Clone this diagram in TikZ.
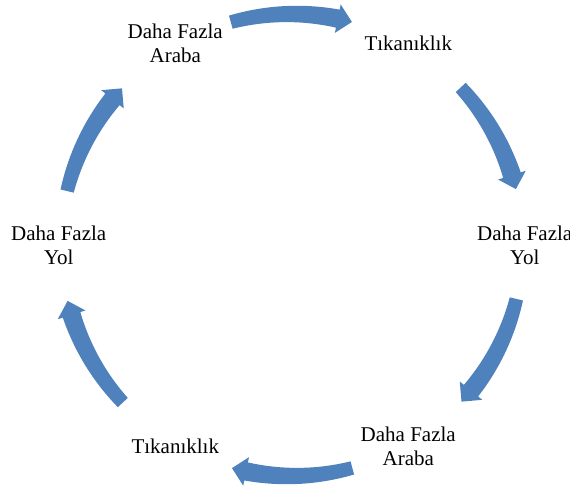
\documentclass[tikz,border=0pt]{standalone}
\usepackage{fontspec}
\setmainfont{Liberation Serif}
\definecolor{arrowblue}{RGB}{79,129,189}
\tikzset{lbl/.style={align=center, font=\fontsize{21}{24}\selectfont, inner sep=0pt}}
\def\cx{291.75}
\def\cy{243}
\def\R{231}
\def\wa{6.8}
\def\wb{9.2}
\def\hw{14.5}
\newcommand{\cycarrow}[2]{%
  \pgfmathsetmacro{\hb}{#2+3.6}%
  \fill[arrowblue]
    plot[variable=\t, domain=#1:\hb, samples=40]
      ({\cx+(\R+\wa+(\wb-\wa)*(#1-\t)/(#1-\hb))*cos(\t)},
       {\cy+(\R+\wa+(\wb-\wa)*(#1-\t)/(#1-\hb))*sin(\t)})
    -- ({\cx+(\R+\hw)*cos(\hb)},{\cy+(\R+\hw)*sin(\hb)})
    -- ({\cx+\R*cos(#2)},{\cy+\R*sin(#2)})
    -- ({\cx+(\R-\hw)*cos(\hb)},{\cy+(\R-\hw)*sin(\hb)})
    -- plot[variable=\t, domain=\hb:#1, samples=40]
      ({\cx+(\R-\wa-(\wb-\wa)*(#1-\t)/(#1-\hb))*cos(\t)},
       {\cy+(\R-\wa-(\wb-\wa)*(#1-\t)/(#1-\hb))*sin(\t)})
    -- cycle;}
\begin{document}
\begin{tikzpicture}[x=1pt,y=1pt]
\useasboundingbox (0,0) rectangle (570,488);
\cycarrow{105.3}{74.9}
\cycarrow{43}{14}
\cycarrow{-13.5}{-42.7}
\cycarrow{-74.8}{-105}
\cycarrow{-137}{-166}
\cycarrow{166.5}{137.3}
\node[lbl] (a1) at ({\cx+233*cos(120)},{\cy+233*sin(120)}) {Daha Fazla\\Araba};
\node[lbl] (t1) at ({\cx+233*cos(60)},{\cy+233*sin(60)}) {Tıkanıklık};
\node[lbl] (y1) at ({\cx+233},{\cy}) {Daha Fazla\\Yol};
\node[lbl] (a2) at ({\cx+233*cos(-60)},{\cy+233*sin(-60)}) {Daha Fazla\\Araba};
\node[lbl] (t2) at ({\cx+233*cos(-120)},{\cy+233*sin(-120)}) {Tıkanıklık};
\node[lbl] (y2) at ({\cx-233},{\cy}) {Daha Fazla\\Yol};
\end{tikzpicture}
\end{document}
